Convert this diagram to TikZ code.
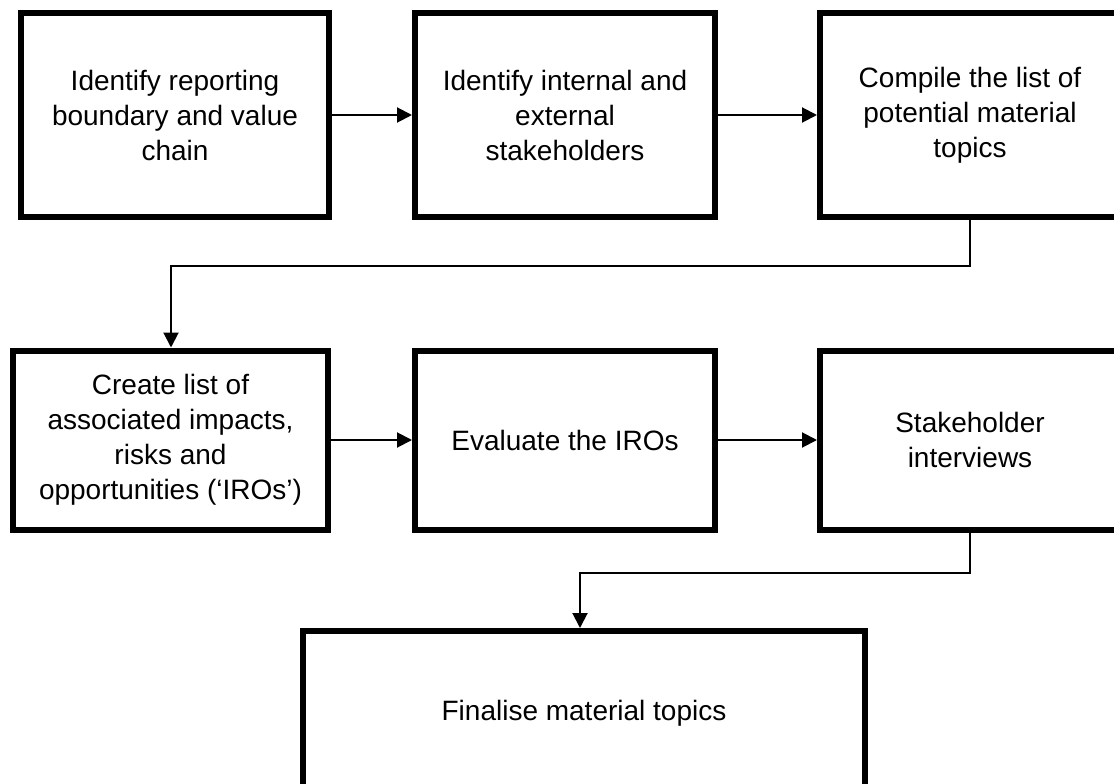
\documentclass[tikz,border=0pt]{standalone}
\usepackage{fontspec}
\setmainfont{Liberation Sans}
\usetikzlibrary{arrows.meta}
\tikzset{
  stepbox/.style={draw=black, line width=6pt, fill=white, rectangle, align=center,
    font={\fontsize{28}{35}\selectfont}, inner sep=0pt},
  arr/.style={draw=black, line width=2pt, -{Triangle[length=15pt,width=15pt]}},
}
\begin{document}
\begin{tikzpicture}[x=1pt,y=-1pt]
\useasboundingbox (0,0) rectangle (1114,784);
\clip (0,0) rectangle (1114,784);
\node[stepbox, minimum width=308pt, minimum height=204pt] (b1) at (175,115) {Identify reporting\\boundary and value\\chain};
\node[stepbox, minimum width=300pt, minimum height=204pt] (b2) at (565,115) {Identify internal and\\external\\stakeholders};
\node[stepbox, minimum width=300pt, minimum height=204pt] (b3) at (970,115) {Compile the list of\\potential material\\topics};
\node[stepbox, minimum width=315pt, minimum height=179pt] (b4) at (170.5,440) {Create list of\\associated impacts,\\risks and\\opportunities (‘IROs’)};
\node[stepbox, minimum width=300pt, minimum height=179pt] (b5) at (565,440) {Evaluate the IROs};
\node[stepbox, minimum width=300pt, minimum height=179pt] (b6) at (970,440) {Stakeholder\\interviews};
\node[stepbox, minimum width=562pt, minimum height=164pt] (b7) at (584,713) {Finalise material topics};
\draw[arr] (b1.east) -- (b2.west);
\draw[arr] (b2.east) -- (b3.west);
\draw[arr] (b4.east) -- (b5.west);
\draw[arr] (b5.east) -- (b6.west);
\coordinate (c1) at (171,266);
\coordinate (c2) at (580,573);
\draw[arr] (b3.south) |- (c1) -- (c1 |- b4.north);
\draw[arr] (b6.south) |- (c2) -- (c2 |- b7.north);
\end{tikzpicture}
\end{document}
